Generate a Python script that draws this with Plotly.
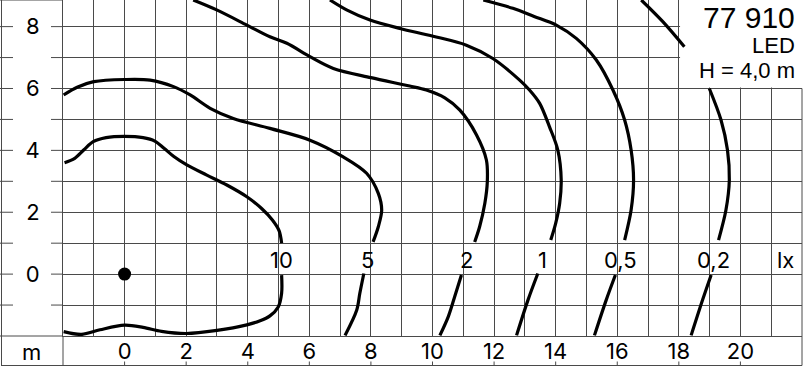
import plotly.graph_objects as go

# ---------------- data (metres) ----------------
iso_labels = ["10", "5", "2", "1", "0,5", "0,2"]
iso_label_x = [5.10, 7.89, 11.11, 13.57, 16.10, 19.14]
label_row_y = 0.47
unit_label = "lx"
unit_label_x = 21.47

iso10_up_x = [-1.95, -1.62, -1.32, -1.02, -0.60, 0.00, 0.60, 0.98, 1.28, 1.60, 2.02, 2.67, 3.32, 3.97, 4.45, 4.80, 5.02, 5.10]
iso10_up_y = [3.60, 3.74, 4.02, 4.28, 4.41, 4.45, 4.41, 4.30, 4.07, 3.80, 3.53, 3.20, 2.88, 2.50, 2.12, 1.75, 1.40, 1.00]
iso10_lo_x = [5.10, 5.10, 4.99, 4.72, 4.40, 3.97, 3.00, 2.00, 1.20, 0.60, 0.00, -0.80, -1.40, -1.98]
iso10_lo_y = [-0.03, -0.62, -1.06, -1.35, -1.51, -1.64, -1.82, -1.92, -1.85, -1.72, -1.65, -1.80, -1.95, -1.86]

iso5_up_x = [-1.98, -1.54, -1.00, 0.00, 0.83, 1.59, 2.13, 2.78, 3.53, 4.72, 6.02, 7.10, 7.86, 8.24, 8.35, 8.24, 8.07]
iso5_up_y = [5.79, 6.04, 6.22, 6.29, 6.27, 6.06, 5.79, 5.36, 5.03, 4.71, 4.33, 3.79, 3.26, 2.61, 2.07, 1.53, 1.04]
iso5_lo_x = [7.77, 7.64, 7.54, 7.16]
iso5_lo_y = [0.02, -0.62, -1.16, -1.98]

iso2_up_x = [2.23, 2.99, 3.97, 4.72, 5.27, 6.02, 6.78, 8.00, 9.26, 9.80, 10.40, 10.89, 11.43, 11.75, 11.78, 11.70, 11.53, 11.37]
iso2_up_y = [8.86, 8.54, 8.05, 7.67, 7.46, 7.03, 6.65, 6.35, 6.08, 5.95, 5.70, 5.30, 4.50, 3.69, 2.98, 2.29, 1.53, 1.04]
iso2_lo_x = [10.94, 10.72, 10.51, 10.24]
iso2_lo_y = [-0.03, -0.73, -1.38, -1.98]

iso1_up_x = [6.67, 7.21, 7.97, 8.94, 10.02, 11.10, 11.96, 12.83, 13.15, 13.48, 13.80, 14.07, 14.18, 14.13, 14.00, 13.84]
iso1_up_y = [8.86, 8.54, 8.21, 7.94, 7.69, 7.40, 6.97, 6.27, 5.95, 5.52, 4.76, 4.01, 3.04, 2.29, 1.64, 1.10]
iso1_lo_x = [13.42, 13.10, 12.73]
iso1_lo_y = [0.02, -0.84, -1.98]

iso05_up_x = [11.65, 12.61, 13.30, 14.02, 14.67, 15.32, 15.86, 16.24, 16.45, 16.53, 16.45, 16.24]
iso05_up_y = [8.86, 8.59, 8.33, 8.05, 7.62, 6.92, 5.95, 4.98, 4.01, 3.04, 2.07, 1.10]
iso05_lo_x = [15.94, 15.64, 15.26]
iso05_lo_y = [-0.03, -0.84, -1.98]

iso02_top_x = [16.78, 17.48, 18.18]
iso02_top_y = [8.86, 8.16, 7.35]
iso02_up_x = [18.99, 19.37, 19.58, 19.64, 19.53, 19.29]
iso02_up_y = [6.00, 4.98, 4.01, 3.04, 2.07, 1.10]
iso02_lo_x = [19.05, 18.77, 18.40]
iso02_lo_y = [-0.03, -0.84, -1.98]

source_x = [0]
source_y = [0]

x_tick_vals = [0, 2, 4, 6, 8, 10, 12, 14, 16, 18, 20]
x_tick_text = ["0", "2", "4", "6", "8", "10", "12", "14", "16", "18", "20"]
y_tick_vals = [0, 2, 4, 6, 8]
y_tick_text = ["0", "2", "4", "6", "8"]
axis_unit = "m"

title_lines = ["77 910", "LED", "H = 4,0 m"]

# ---------------- layout geometry ----------------
W, H = 804, 368
L, R, T, B = 63, 2, 0, 32
PW, PH = W - L - R, H - T - B
X_RANGE = [-2, 22]
Y_RANGE = [-2, 8.86]

def px_x(px):
    return (px - L) / PW

def px_y(py):
    return (H - B - py) / PH

FONT = "Liberation Sans, Arial, Helvetica, sans-serif"
DFONT = "Inter, Liberation Sans, Arial, sans-serif"
GRID = "#4a4a4a"
LINE_W = 3.2

fig = go.Figure()

segments = [
    (iso10_up_x, iso10_up_y), (iso10_lo_x, iso10_lo_y),
    (iso5_up_x, iso5_up_y), (iso5_lo_x, iso5_lo_y),
    (iso2_up_x, iso2_up_y), (iso2_lo_x, iso2_lo_y),
    (iso1_up_x, iso1_up_y), (iso1_lo_x, iso1_lo_y),
    (iso05_up_x, iso05_up_y), (iso05_lo_x, iso05_lo_y),
    (iso02_top_x, iso02_top_y), (iso02_up_x, iso02_up_y), (iso02_lo_x, iso02_lo_y),
]
for sx, sy in segments:
    fig.add_trace(go.Scatter(x=sx, y=sy, mode="lines",
                             line=dict(color="black", width=LINE_W, shape="spline", smoothing=0.9),
                             hoverinfo="skip"))

fig.add_trace(go.Scatter(x=source_x, y=source_y, mode="markers",
                         marker=dict(color="black", size=13), hoverinfo="skip"))

shapes = []
# white label box at top right (above grid, below curves)
shapes.append(dict(type="rect", xref="x", yref="y", x0=18.04, x1=22.5, y0=6.03, y1=9.2,
                   fillcolor="white", line=dict(width=0), layer="between"))
# horizontal grid stubs in the left label column
for yv in range(-1, 9):
    for a, b in ((0, 13), (51, L)):
        shapes.append(dict(type="line", xref="paper", yref="y", x0=px_x(a), x1=px_x(b),
                           y0=yv, y1=yv, line=dict(color=GRID, width=1), layer="above"))
# frame lines
frame = [
    (px_x(0), 0, 0, 0),                            # bottom of plot extended left
    (px_x(0), 1, 0, 1),                            # top extended left
    (px_x(1.5), px_y(0), px_x(1.5), px_y(365.5)),  # outer left
    (px_x(1), px_y(365.5), 1, px_y(365.5)),        # outer bottom
    (0, 0, 0, px_y(365.5)),                        # x=-2 line down through label strip
    (1, px_y(88.5), 1, px_y(365.5)),               # right border (hidden behind title box)
]
for x0, y0, x1, y1 in frame:
    shapes.append(dict(type="line", xref="paper", yref="paper", x0=x0, y0=y0, x1=x1, y1=y1,
                       line=dict(color=GRID, width=1), layer="above"))
# small ticks at the bottom of the label strip
for xv in x_tick_vals:
    shapes.append(dict(type="line", xref="x", yref="paper", x0=xv, x1=xv,
                       y0=px_y(361.5), y1=px_y(365.5), line=dict(color=GRID, width=1), layer="above"))

annotations = []
for txt, xv in zip(iso_labels, iso_label_x):
    annotations.append(dict(x=xv, y=label_row_y, xref="x", yref="y", text=txt, showarrow=False,
                            xanchor="center", yanchor="middle", font=dict(family=DFONT, size=22, color="black")))
annotations.append(dict(x=unit_label_x, y=label_row_y, xref="x", yref="y", text=unit_label, showarrow=False,
                        xanchor="center", yanchor="middle", font=dict(family=DFONT, size=22, color="black")))
annotations.append(dict(x=px_x(31.7), y=px_y(352.4), xref="paper", yref="paper", text=axis_unit,
                        showarrow=False, xanchor="center", yanchor="middle",
                        font=dict(family=DFONT, size=22, color="black")))
for txt, py, size in zip(title_lines, (17.5, 45.3, 70.0), (30, 22, 22)):
    annotations.append(dict(x=px_x(796.5), y=px_y(py), xref="paper", yref="paper", text=txt,
                            showarrow=False, xanchor="right", yanchor="middle",
                            font=dict(family=FONT, size=size, color="black")))

axis_common = dict(zeroline=False, showgrid=True, gridcolor=GRID, gridwidth=1, ticks="",
                   tickfont=dict(family=DFONT, size=22, color="black"), fixedrange=True)

fig.update_layout(
    width=W, height=H, margin=dict(l=L, r=R, t=T, b=B, pad=0),
    paper_bgcolor="white", plot_bgcolor="white", showlegend=False,
    xaxis=dict(range=X_RANGE, tickmode="array", tickvals=x_tick_vals, ticktext=x_tick_text,
               minor=dict(tick0=0, dtick=1, showgrid=True, gridcolor=GRID, gridwidth=1),
               showline=True, mirror=True, linecolor=GRID, linewidth=1,
               ticklabelstandoff=-4, **axis_common),
    yaxis=dict(range=Y_RANGE, tickmode="array", tickvals=y_tick_vals, ticktext=y_tick_text,
               minor=dict(tick0=0, dtick=1, showgrid=True, gridcolor=GRID, gridwidth=1),
               showline=True, mirror=False, linecolor=GRID, linewidth=1,
               ticklabelstandoff=18, **axis_common),
    shapes=shapes, annotations=annotations,
)

fig.write_html("out.html")
